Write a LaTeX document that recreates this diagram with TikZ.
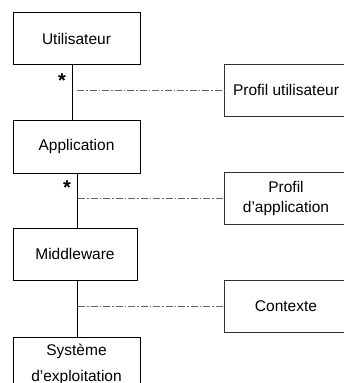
\documentclass[tikz,border=0pt]{standalone}
\usepackage{fontspec}
\setmainfont{Liberation Sans}
\begin{document}
\begin{tikzpicture}[x=1pt,y=-1pt,
  every node/.style={font=\fontsize{15.5}{20}\selectfont},
  layer/.style={draw=black,line width=0.9pt,inner sep=0pt,align=center,
    minimum width=127pt,minimum height=52pt},
  profile/.style={draw=black!80,line width=0.9pt,inner sep=0pt,align=center,
    minimum width=124pt,minimum height=52pt},
  link/.style={line width=0.8pt},
  dashdot/.style={draw=black!60,line width=0.8pt,
    dash pattern=on 7pt off 2pt on 1.5pt off 2pt},
  mult/.style={inner sep=0pt,font=\fontsize{20}{20}\selectfont\bfseries}]
\clip (0,0) rectangle (344,383);
\useasboundingbox (0,0) rectangle (344,383);

% layered stack on the left
\node[layer] (u) at (76.5,38.5) {Utilisateur};
\node[layer,minimum height=53pt] (a) at (76.5,146.5) {Application};
\node[layer,minimum width=124pt] (m) at (75,254) {Middleware};
\node[layer,minimum height=54pt] (s) at (76.5,364) {Système\\[6pt]d’exploitation};

% profile boxes on the right
\node[profile] (pu) at (286,90) {Profil utilisateur};
\node[profile] (pa) at (286,198.5) {Profil\\d’application};
\node[profile] (cx) at (286,306.5) {Contexte};

% vertical links
\coordinate (axA) at (72,0);
\coordinate (axB) at (77,0);
\draw[link] (u.south -| axA) -- (a.north -| axA);
\draw[link] (a.south -| axB) -- (m.north -| axB);
\draw[link] (m.south -| axB) -- (s.north -| axB);

% multiplicities
\node[mult] (s1) at (62,81) {*};
\node[mult] (s2) at (67,188) {*};

% dash-dot associations
\coordinate (d1) at (77,90);
\coordinate (d2) at (78,198.5);
\coordinate (d3) at (78,306.5);
\draw[dashdot] (d1) -- (pu.west);
\draw[dashdot] (d2) -- (pa.west);
\draw[dashdot] (d3) -- (cx.west);
\end{tikzpicture}
\end{document}
